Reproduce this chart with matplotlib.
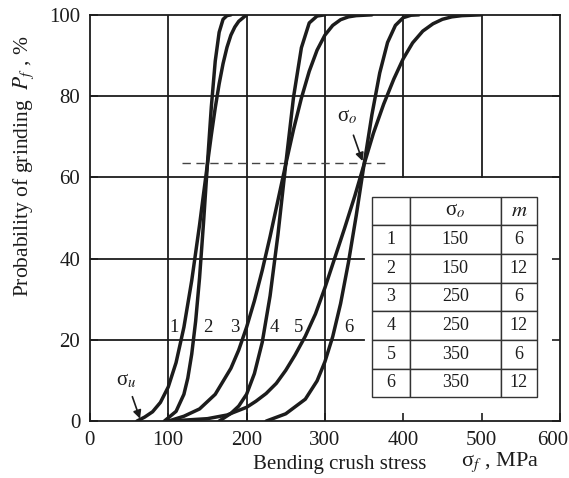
import matplotlib
matplotlib.use("Agg")
import matplotlib.pyplot as plt
from matplotlib.transforms import ScaledTranslation

plt.rcParams['font.family'] = ['Liberation Serif', 'DejaVu Serif']
plt.rcParams['mathtext.fontset'] = 'stix'

# curves (stress in MPa, probability in %)
c1_x = [60, 70, 80, 90, 100, 110, 120, 130, 140, 145, 150, 155, 160, 165, 170, 175, 180, 185, 190, 195, 200]
c1_y = [0, 1.0, 2.3, 4.6, 8.4, 14.4, 23.1, 34.6, 48.3, 55.8, 63.2, 70.4, 77.1, 83.0, 88.0, 92.0, 95.0, 97.0, 98.4, 99.2, 100]
c2_x = [95, 100, 110, 120, 125, 130, 135, 140, 145, 150, 155, 160, 165, 170, 175, 180]
c2_y = [0, 0.8, 2.4, 6.6, 10.6, 16.5, 24.6, 35.3, 48.7, 63.2, 77.3, 88.6, 95.7, 98.9, 99.8, 100]
c3_x = [100, 120, 140, 160, 180, 190, 200, 210, 220, 230, 240, 250, 260, 270, 280, 290, 300, 310, 320, 330, 340, 360]
c3_y = [0, 1.2, 3.0, 6.6, 13.0, 17.5, 23.1, 29.6, 37.1, 45.4, 54.3, 63.2, 71.8, 79.5, 86.1, 91.3, 95.0, 97.4, 98.8, 99.5, 99.8, 100]
c4_x = [165, 180, 190, 200, 210, 220, 230, 240, 250, 260, 270, 280, 290, 300]
c4_y = [0, 1.9, 3.7, 6.6, 11.7, 19.4, 30.8, 45.8, 63.2, 79.8, 91.9, 98.0, 99.7, 100]
c5_x = [100, 150, 175, 200, 212, 225, 238, 250, 262, 275, 288, 300, 312, 325, 338, 350, 362, 375,
        388, 400, 412, 425, 438, 450, 462, 475, 500]
c5_y = [0, 0.6, 1.5, 3.4, 4.9, 6.8, 9.3, 12.5, 16.3, 20.9, 26.4, 32.8, 39.8, 47.4, 55.3, 63.2, 70.9, 78.0,
        84.2, 89.2, 93.1, 96.0, 97.8, 98.9, 99.5, 99.8, 100]
c6_x = [225, 250, 275, 290, 300, 310, 320, 330, 340, 350, 360, 370, 380, 390, 400, 410, 420]
c6_y = [0, 1.8, 5.4, 9.9, 14.6, 20.8, 28.9, 39.0, 50.6, 63.2, 75.4, 85.7, 93.2, 97.4, 99.3, 99.9, 100]

curve_labels = ['1', '2', '3', '4', '5', '6']
label_x = [107, 151, 185, 236, 266, 331]
label_y = [23, 23, 23, 23, 23, 23]

table_rows = ['1', '2', '3', '4', '5', '6']
sigma_o = ['150', '150', '250', '250', '350', '350']
m_vals = ['6', '12', '6', '12', '6', '12']

x_ticks = [0, 100, 200, 300, 400, 500, 600]
y_ticks = [0, 20, 40, 60, 80, 100]

ink = '#1c1c1c'

fig = plt.figure(figsize=(5.69, 4.78), dpi=100)
ax = fig.add_axes([0.158, 0.119, 0.826, 0.850])
ax.set_xlim(0, 600)
ax.set_ylim(0, 100)

# grid (partly cut away where the table sits)
for gx in [100, 200, 300]:
    ax.axvline(gx, color=ink, lw=1.3)
for gx in [400, 500]:
    ax.axvline(gx, ymin=0.6, ymax=1, color=ink, lw=1.3)
for gy in [60, 80]:
    ax.axhline(gy, color=ink, lw=1.3)
for gy in [20, 40]:
    ax.axhline(gy, xmin=0, xmax=350 / 600, color=ink, lw=1.3)

ax.plot([117, 383], [63.5, 63.5], color='#444444', lw=1.0, dashes=(6, 4))

for xs, ys in [(c1_x, c1_y), (c2_x, c2_y), (c3_x, c3_y), (c4_x, c4_y), (c5_x, c5_y), (c6_x, c6_y)]:
    ax.plot(xs, ys, color=ink, lw=2.5, solid_capstyle='round', solid_joinstyle='round')

for lab, lx, ly in zip(curve_labels, label_x, label_y):
    ax.text(lx, ly, lab, fontsize=13.5, ha='center', va='center', color=ink)

# sigma_u and sigma_o markers
ax.annotate(r'σ$_u$', xy=(64, 0.6), xytext=(47, 10), fontsize=15, ha='center', va='center', color=ink,
            arrowprops=dict(arrowstyle='-|>', color=ink, lw=1.2, shrinkA=3, shrinkB=0, mutation_scale=12))
ax.annotate(r'σ$_o$', xy=(348, 64), xytext=(328, 75), fontsize=15, ha='center', va='center', color=ink,
            arrowprops=dict(arrowstyle='-|>', color=ink, lw=1.2, shrinkA=5, shrinkB=0, mutation_scale=12))

# parameter table
cells = [[r, s, m] for r, s, m in zip(table_rows, sigma_o, m_vals)]
tab = ax.table(cellText=cells, colLabels=['', r'σ$_o$', r'$m$'], cellLoc='center',
               colWidths=[38, 91, 36], bbox=[0.600, 0.059, 0.351, 0.493])
tab.auto_set_font_size(False)
for (r, c), cell in tab.get_celld().items():
    cell.set_edgecolor('#333333')
    cell.set_linewidth(1.0)
    cell.set_facecolor('white')
    cell.get_text().set_fontsize(13)
    cell.get_text().set_color(ink)
    if r == 0:
        cell.get_text().set_fontsize(15)

ax.set_xticks(x_ticks)
ax.set_yticks(y_ticks)
ax.tick_params(direction='in', length=6, width=1.2, labelsize=15, colors=ink, right=True, pad=7)
# keep the last x label inside the picture
last = ax.get_xticklabels()[-1]
last.set_transform(last.get_transform() + ScaledTranslation(-7 / 100, 0, fig.dpi_scale_trans))
for sp in ax.spines.values():
    sp.set_linewidth(1.3)
    sp.set_color(ink)

fig.text(24 / 569, 1 - 166 / 478, r'Probability of grinding  $P_f$ , %', rotation=90,
         ha='center', va='center', fontsize=15.5, color=ink)
fig.text(340 / 569, 1 - 465 / 478, 'Bending crush stress', ha='center', va='center', fontsize=15, color=ink)
fig.text(500 / 569, 1 - 462 / 478, r'σ$_f$ , MPa', ha='center', va='center', fontsize=16, color=ink)

fig.savefig('out.png', dpi=100)
